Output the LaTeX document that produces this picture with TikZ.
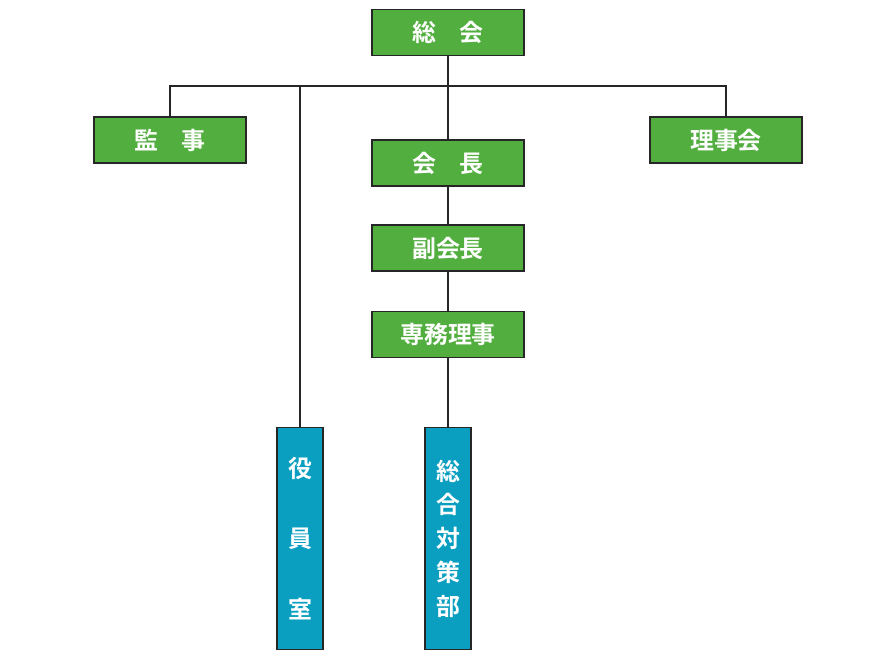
\documentclass[tikz,border=0pt]{standalone}
\usepackage{fontspec}
\newfontfamily\jp{Noto Sans CJK JP Bold}
\usetikzlibrary{positioning}
\definecolor{orggreen}{HTML}{52AE3F}
\definecolor{orgblue}{HTML}{0A9FC0}

\begin{document}
\begin{tikzpicture}[x=0.025cm,y=-0.025cm]
    \tikzset{post/.style={draw=black!85,line width=0.8pt,fill=orggreen,text=white,
        minimum width=3.8cm,minimum height=1.15cm,inner sep=0pt,font=\jp\fontsize{17}{20}\selectfont},
        room/.style={post,fill=orgblue,minimum width=1.15cm,minimum height=5.55cm,align=center},
        link/.style={draw=black!85,line width=0.8pt}}
    \useasboundingbox (0,0) rectangle (896,660);
    \node [post] (soukai) at (448,32.5) {総\hspace{1em}会};
    \node [post] (kansa) at (170,140) {監\hspace{1em}事};
    \node [post] (rijikai) at (726,140) {理事会};
    \node [post] (kaicho) at (448,163) {会\hspace{1em}長};
    \node [post] (fuku) at (448,248) {副会長};
    \node [post] (senmu) at (448,334.5) {専務理事};
    \node [room] (yakuin) at (300,538.5) {役\\[30pt]員\\[30pt]室};
    \node [room] (sogo) at (448,538.5) {総\\[4pt]合\\[4pt]対\\[4pt]策\\[4pt]部};
    \coordinate (bar) at (448,86);
    \draw [link] (soukai) -- (kaicho);
    \draw [link] (kansa.north) |- (bar) -| (rijikai.north);
    \draw [link] (yakuin.north) -- (yakuin.north |- bar);
    \draw [link] (kaicho) -- (fuku);
    \draw [link] (fuku) -- (senmu);
    \draw [link] (senmu) -- (sogo);
\end{tikzpicture}
\end{document}
